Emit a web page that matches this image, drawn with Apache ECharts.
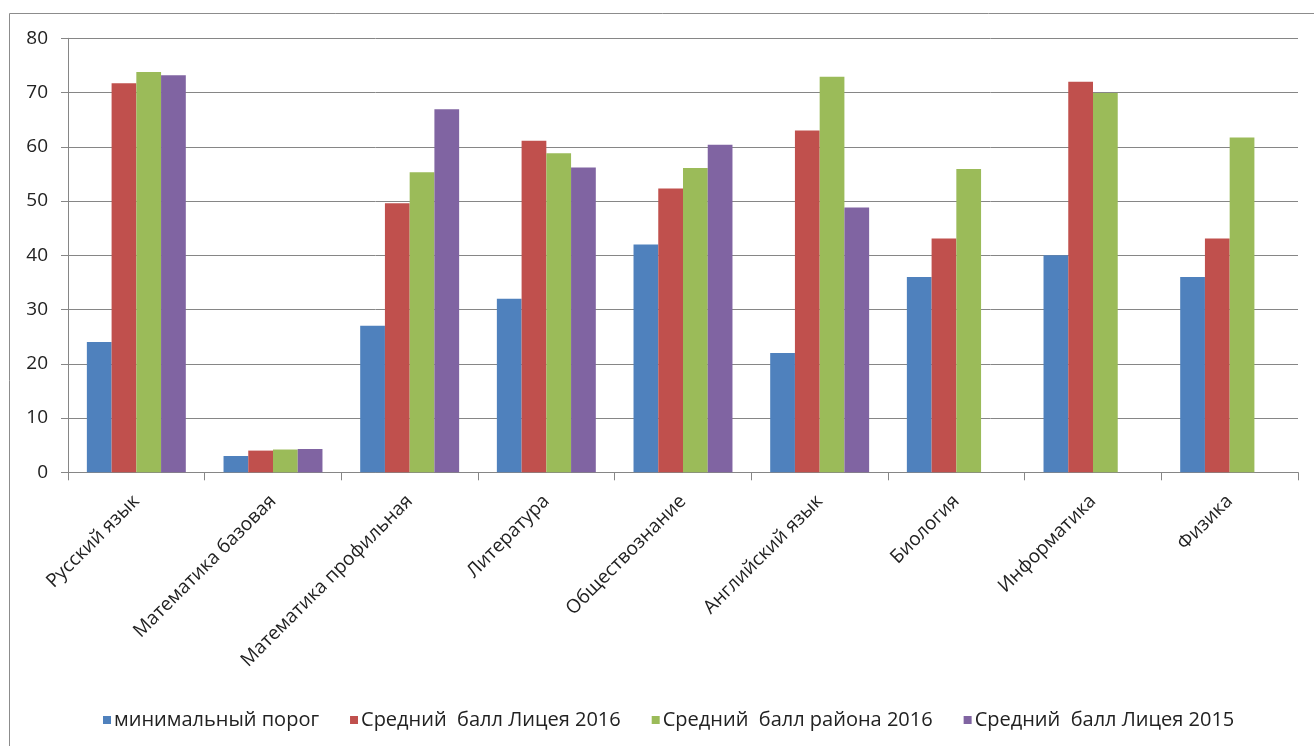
<!DOCTYPE html>
<html>
<head>
<meta charset="utf-8">
<script src="https://cdn.jsdelivr.net/npm/echarts@6/dist/echarts.min.js"></script>
<style>
html,body{margin:0;padding:0;background:#fff;}
#chart{width:1314px;height:746px;}
</style>
</head>
<body>
<div id="chart"></div>
<script>
const categories = ['Русский язык','Математика базовая','Математика профильная','Литература','Обществознание','Английский язык','Биология','Информатика','Физика'];
const seriesNames = ['минимальный порог','Средний  балл Лицея 2016','Средний  балл района 2016','Средний  балл Лицея 2015'];
const minThreshold = [24, 3, 27, 32, 42, 22, 36, 40, 36];
const lyceum2016 = [71.7, 4, 49.6, 61.1, 52.3, 63, 43.1, 72, 43.1];
const district2016 = [73.8, 4.2, 55.3, 58.8, 56.1, 72.9, 55.9, 69.9, 61.7];
const lyceum2015 = [73.2, 4.3, 66.9, 56.2, 60.4, 48.8, null, null, null];
const yTicks = [0, 10, 20, 30, 40, 50, 60, 70, 80];

const colors = ['#4F81BD','#C0504D','#9BBB59','#8064A2'];
const font = '"Open Sans", sans-serif';
const chart = echarts.init(document.getElementById('chart'));
const dataSets = [minThreshold, lyceum2016, district2016, lyceum2015];

chart.setOption({
  animation: false,
  color: colors,
  graphic: [{
    type: 'rect',
    shape: {x: 9.5, y: 13.5, width: 1320, height: 760},
    style: {fill: 'none', stroke: '#8c8c8c', lineWidth: 1},
    silent: true, z: -1
  }],
  grid: {left: 68, right: 16, top: 38.3, bottom: 273.7},
  legend: {
    top: 705,
    left: 98,
    itemWidth: 8, itemHeight: 8, itemGap: 31,
    icon: 'rect',
    textStyle: {fontFamily: font, fontSize: 20, color: '#222', padding: [0,0,0,-2]},
    data: seriesNames
  },
  xAxis: {
    type: 'category',
    data: categories,
    axisLine: {lineStyle: {color: '#868686'}},
    axisTick: {show: true, length: 8, lineStyle: {color: '#868686'}},
    axisLabel: {rotate: 45, fontFamily: font, fontSize: 19, color: '#222', margin: 26, interval: 0}
  },
  yAxis: {
    type: 'value',
    min: yTicks[0], max: yTicks[yTicks.length-1], interval: 10,
    axisLine: {show: true, lineStyle: {color: '#868686'}},
    axisTick: {show: true, length: 7, lineStyle: {color: '#868686'}},
    splitLine: {lineStyle: {color: '#868686'}},
    axisLabel: {fontFamily: font, fontSize: 19, color: '#222', margin: 20}
  },
  series: seriesNames.map((n, i) => ({
    name: n,
    type: 'bar',
    data: dataSets[i],
    barGap: '0%',
    barCategoryGap: '27.6%',
    itemStyle: {color: colors[i]}
  }))
});
</script>
</body>
</html>
